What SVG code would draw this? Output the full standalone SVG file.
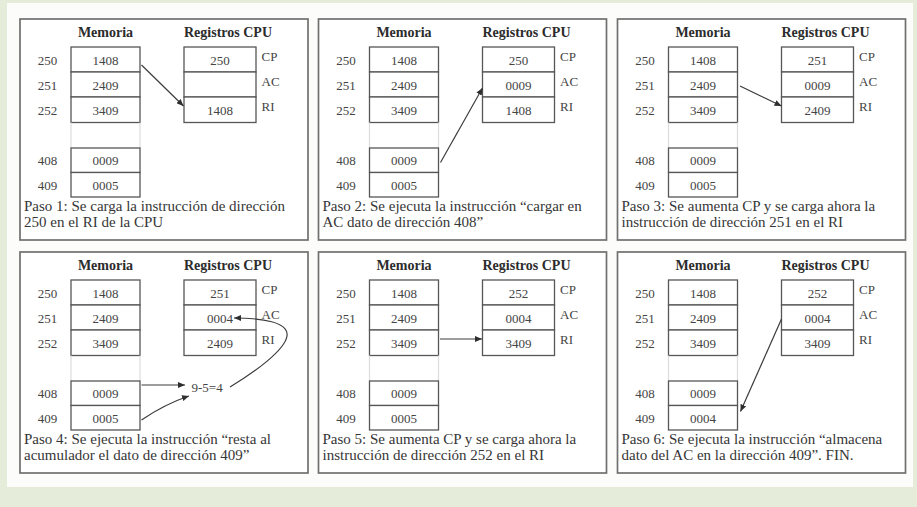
<svg xmlns="http://www.w3.org/2000/svg" width="917" height="507" viewBox="0 0 917 507">
  <style>
    .panel { fill: #ffffff; stroke: #707070; stroke-width: 1.7; }
    .cell { fill: #ffffff; stroke: #565656; stroke-width: 1.3; }
    .gap { stroke: #dcdcdc; stroke-width: 1.2; }
    .hdr { font-family: "Liberation Serif", "Times New Roman", serif; font-size: 14px; font-weight: bold; fill: #2c2c2c; text-anchor: middle; }
    .num { font-family: "Liberation Serif", "Times New Roman", serif; font-size: 13px; fill: #444444; text-anchor: middle; }
    .reg { font-family: "Liberation Serif", "Times New Roman", serif; font-size: 13px; fill: #444444; }
    .cap { font-family: "Liberation Serif", "Times New Roman", serif; font-size: 15px; fill: #363636; }
    .wire { fill: none; stroke: #3c3c3c; stroke-width: 1.2; }
  </style>
  <defs>
    <marker id="head" markerUnits="userSpaceOnUse" markerWidth="7" markerHeight="6" refX="7" refY="3" orient="auto">
      <path d="M0,0 L7,3 L0,6 z" fill="#2e2e2e"/>
    </marker>
    <!-- memory column + register column shared by every step -->
    <g id="frame">
      <rect class="panel" x="0" y="0" width="288" height="221"/>
      <text class="hdr" x="85.5" y="17.5">Memoria</text>
      <text class="hdr" x="208" y="17.5">Registros CPU</text>
      <rect class="cell" x="51" y="28" width="69" height="25"/>
      <rect class="cell" x="51" y="53" width="69" height="25"/>
      <rect class="cell" x="51" y="78" width="69" height="25.5"/>
      <line class="gap" x1="51" y1="103.5" x2="51" y2="129"/>
      <line class="gap" x1="120" y1="103.5" x2="120" y2="129"/>
      <rect class="cell" x="51" y="129" width="69" height="24.5"/>
      <rect class="cell" x="51" y="153.5" width="69" height="24.5"/>
      <text class="num" x="27.5" y="45.5">250</text>
      <text class="num" x="27.5" y="70.5">251</text>
      <text class="num" x="27.5" y="95.5">252</text>
      <text class="num" x="27.5" y="146">408</text>
      <text class="num" x="27.5" y="170.5">409</text>
      <text class="num" x="85.5" y="45.5">1408</text>
      <text class="num" x="85.5" y="70.5">2409</text>
      <text class="num" x="85.5" y="95.5">3409</text>
      <text class="num" x="85.5" y="146">0009</text>
      <rect class="cell" x="164" y="28" width="72" height="25"/>
      <rect class="cell" x="164" y="53" width="72" height="25"/>
      <rect class="cell" x="164" y="78" width="72" height="25.5"/>
      <text class="reg" x="241.5" y="42">CP</text>
      <text class="reg" x="241.5" y="66.5">AC</text>
      <text class="reg" x="241.5" y="91.5">RI</text>
    </g>
  </defs>

  <!-- page background -->
  <rect x="0" y="0" width="917" height="507" fill="#e5edda"/>
  <rect x="7" y="3" width="906" height="484" fill="#fcfdfa"/>

  <g id="paso1" transform="translate(20,19)">
    <use href="#frame"/>
    <text class="num" x="85.5" y="170.5">0005</text>
    <text class="num" x="200" y="45.5">250</text>
    <text class="num" x="200" y="95.5">1408</text>
    <text class="cap" x="4" y="192">Paso 1: Se carga la instrucción de dirección</text>
    <text class="cap" x="4" y="208">250 en el RI de la CPU</text>
  </g>

  <g id="paso2" transform="translate(318.5,19)">
    <use href="#frame"/>
    <text class="num" x="85.5" y="170.5">0005</text>
    <text class="num" x="200" y="45.5">250</text>
    <text class="num" x="200" y="70.5">0009</text>
    <text class="num" x="200" y="95.5">1408</text>
    <text class="cap" x="4" y="192">Paso 2: Se ejecuta la instrucción “cargar en</text>
    <text class="cap" x="4" y="208">AC dato de dirección 408”</text>
  </g>

  <g id="paso3" transform="translate(617.5,19)">
    <use href="#frame"/>
    <text class="num" x="85.5" y="170.5">0005</text>
    <text class="num" x="200" y="45.5">251</text>
    <text class="num" x="200" y="70.5">0009</text>
    <text class="num" x="200" y="95.5">2409</text>
    <text class="cap" x="4" y="192">Paso 3: Se aumenta CP y se carga ahora la</text>
    <text class="cap" x="4" y="208">instrucción de dirección 251 en el RI</text>
  </g>

  <g id="paso4" transform="translate(20,252)">
    <use href="#frame"/>
    <text class="num" x="85.5" y="170.5">0005</text>
    <text class="num" x="200" y="45.5">251</text>
    <text class="num" x="200" y="70.5">0004</text>
    <text class="num" x="200" y="95.5">2409</text>
    <text class="num" x="171.5" y="140" style="text-anchor:start">9-5=4</text>
    <text class="cap" x="4" y="191.5">Paso 4: Se ejecuta la instrucción “resta al</text>
    <text class="cap" x="4" y="207.5">acumulador el dato de dirección 409”</text>
  </g>

  <g id="paso5" transform="translate(318.5,252)">
    <use href="#frame"/>
    <text class="num" x="85.5" y="170.5">0005</text>
    <text class="num" x="200" y="45.5">252</text>
    <text class="num" x="200" y="70.5">0004</text>
    <text class="num" x="200" y="95.5">3409</text>
    <text class="cap" x="4" y="191.5">Paso 5: Se aumenta CP y se carga ahora la</text>
    <text class="cap" x="4" y="207.5">instrucción de dirección 252 en el RI</text>
  </g>

  <g id="paso6" transform="translate(617.5,252)">
    <use href="#frame"/>
    <text class="num" x="85.5" y="170.5">0004</text>
    <text class="num" x="200" y="45.5">252</text>
    <text class="num" x="200" y="70.5">0004</text>
    <text class="num" x="200" y="95.5">3409</text>
    <text class="cap" x="4" y="191.5">Paso 6: Se ejecuta la instrucción “almacena</text>
    <text class="cap" x="4" y="207.5">dato del AC en la dirección 409”. FIN.</text>
  </g>

  <g id="connectors">
    <!-- step 1: 1408 from address 250 into RI -->
    <path class="wire" d="M141.5,65 L183.5,106" marker-end="url(#head)"/>
    <!-- step 2: 0009 from address 408 into AC -->
    <path class="wire" d="M440.5,162.5 L482.5,88" marker-end="url(#head)"/>
    <!-- step 3: 2409 from address 251 into RI -->
    <path class="wire" d="M740,86 L781.5,106" marker-end="url(#head)"/>
    <!-- step 4: operands to the subtraction, result back into AC -->
    <path class="wire" d="M141.5,385 L185,385" marker-end="url(#head)"/>
    <path class="wire" d="M141.5,420 Q165,404 189,396" marker-end="url(#head)"/>
    <path class="wire" d="M230,387 C255,372 285,350 287,336 C289,322 262,318 234,318" marker-end="url(#head)"/>
    <!-- step 5: 3409 from address 252 into RI -->
    <path class="wire" d="M440,339 L482,339" marker-end="url(#head)"/>
    <!-- step 6: AC stored at address 409 -->
    <path class="wire" d="M781.5,319 L740.5,411.5" marker-end="url(#head)"/>
  </g>
</svg>
